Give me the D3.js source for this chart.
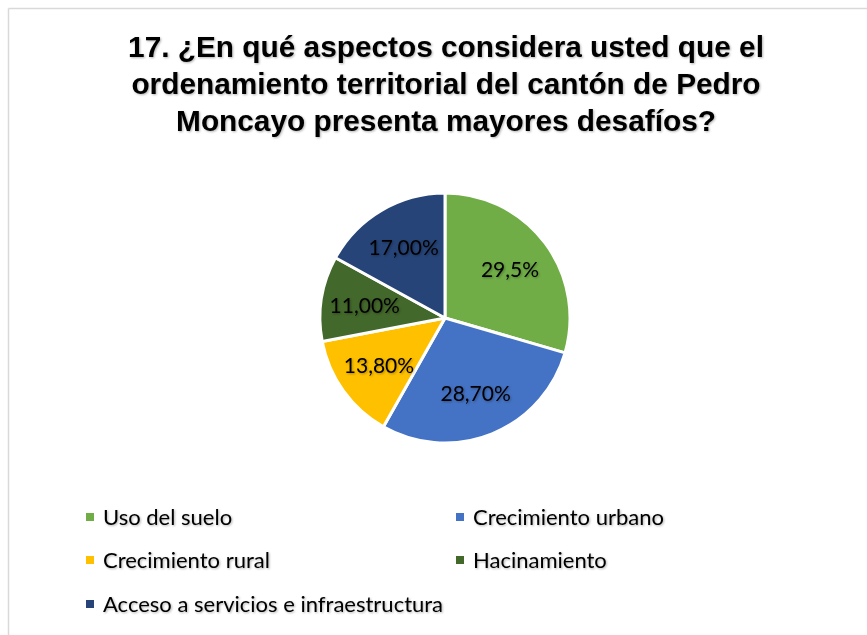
<!DOCTYPE html>
<html>
<head>
<meta charset="utf-8">
<script src="https://cdn.jsdelivr.net/npm/d3@7"></script>
<style>
  body { margin: 0; background: #fff; }
  .title { font-family: "Liberation Sans", Arial, sans-serif; font-weight: bold; fill: #000; }
  .lbl { font-family: Lato, "Open Sans", sans-serif; fill: #000; }
  .leg { font-family: Lato, "Open Sans", sans-serif; fill: #000; }
</style>
</head>
<body>
<div id="chart"></div>
<script>
// data
var categories = ['Uso del suelo', 'Crecimiento urbano', 'Crecimiento rural', 'Hacinamiento', 'Acceso a servicios e infraestructura'];
var values = [29.5, 28.7, 13.8, 11.0, 17.0];
var labels = ['29,5%', '28,70%', '13,80%', '11,00%', '17,00%'];
var colors = ['#70ad47', '#4472c4', '#ffc000', '#43682b', '#264478'];
var titleLines = ['17. ¿En qué aspectos considera usted que el', 'ordenamiento territorial del cantón de Pedro', 'Moncayo presenta mayores desafíos?'];

var width = 867;
var height = 635;

var svg = d3.select('#chart')
    .append('svg')
    .attr('width', width)
    .attr('height', height);

// chart frame (only top and left edges visible)
svg.append('line').attr('x1', 8.5).attr('x2', width).attr('y1', 8.5).attr('y2', 8.5)
    .attr('stroke', '#d9d9d9').attr('stroke-width', 1.5);
svg.append('line').attr('x1', 8.5).attr('x2', 8.5).attr('y1', 8.5).attr('y2', height)
    .attr('stroke', '#d9d9d9').attr('stroke-width', 1.5);

// shadow filter for text
var defs = svg.append('defs');
var f = defs.append('filter').attr('id', 'shadow').attr('x', '-5%').attr('y', '-20%').attr('width', '110%').attr('height', '140%');
f.append('feDropShadow').attr('dx', 1).attr('dy', 1).attr('stdDeviation', 0.8).attr('flood-color', '#000').attr('flood-opacity', 0.3);

//Title
svg.append('g')
    .selectAll('text')
    .data(titleLines)
    .enter()
    .append('text')
    .attr('class', 'title')
    .attr('x', 446)
    .attr('y', function(d, i) { return 57 + i * 37; })
    .attr('text-anchor', 'middle')
    .attr('font-size', 29.8)
    .attr('filter', 'url(#shadow)')
    .text(function(d) { return d; });

//Pie
var cx = 445, cy = 318, radius = 125;
var pie = d3.pie().sort(null).value(function(d) { return d; });
var arc = d3.arc().innerRadius(0).outerRadius(radius);
var labelArc = d3.arc().innerRadius(radius * 0.65).outerRadius(radius * 0.65);

var g = svg.append('g').attr('transform', 'translate(' + cx + ',' + cy + ')');
var arcs = pie(values);

g.selectAll('path')
    .data(arcs)
    .enter()
    .append('path')
    .attr('d', arc)
    .attr('fill', function(d, i) { return colors[i]; })
    .attr('stroke', '#fff')
    .attr('stroke-width', 3)
    .attr('stroke-linejoin', 'round');

g.selectAll('text')
    .data(arcs)
    .enter()
    .append('text')
    .attr('class', 'lbl')
    .attr('transform', function(d) { return 'translate(' + labelArc.centroid(d) + ')'; })
    .attr('text-anchor', 'middle')
    .attr('dy', '0.35em')
    .attr('font-size', 21)
    .attr('filter', 'url(#shadow)')
    .text(function(d, i) { return labels[i]; });

//Legend
var legX = [86, 456];
var legY = [517, 560, 604];
var leg = svg.append('g').selectAll('g')
    .data(categories)
    .enter()
    .append('g')
    .attr('transform', function(d, i) {
        return 'translate(' + legX[i % 2] + ',' + legY[Math.floor(i / 2)] + ')';
    });

leg.append('rect')
    .attr('x', 0).attr('y', -4)
    .attr('width', 8).attr('height', 8)
    .attr('fill', function(d, i) { return colors[i]; });

leg.append('text')
    .attr('class', 'leg')
    .attr('x', 17)
    .attr('dy', '0.35em')
    .attr('font-size', 22)
    .attr('filter', 'url(#shadow)')
    .text(function(d) { return d; });
</script>
</body>
</html>
